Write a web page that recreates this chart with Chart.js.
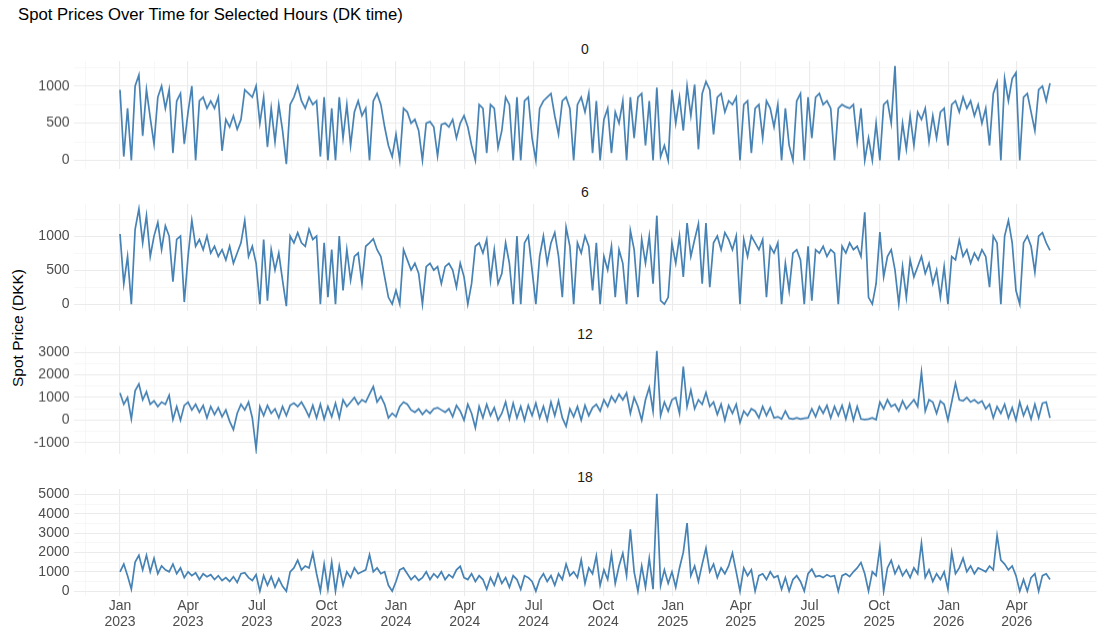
<!DOCTYPE html>
<html>
<head>
<meta charset="utf-8">
<script src="https://cdn.jsdelivr.net/npm/chart.js@4.4.1/dist/chart.umd.min.js"></script>
<style>
  body { margin: 0; width: 1104px; height: 632px; background: #fff; position: relative; overflow: hidden;
         font-family: "Liberation Sans", Arial, sans-serif; }
  #title { position: absolute; left: 18px; top: 5px; font-size: 16.7px; color: #000; white-space: nowrap; }
  #ytitle { position: absolute; left: 18px; top: 328px; transform: translate(-50%, -50%) rotate(-90deg);
            font-size: 15.5px; color: #000; white-space: nowrap; }
  .strip { position: absolute; left: 73.5px; width: 1023px; height: 16px; line-height: 16px;
           text-align: center; font-size: 14px; color: #1a1a1a; }
  canvas { position: absolute; left: 0; }
</style>
</head>
<body>
<div id="title">Spot Prices Over Time for Selected Hours (DK time)</div>
<div id="ytitle">Spot Price (DKK)</div>
<script>
// daily spot price read every 5 days from 2023-01-01
const START = Date.UTC(2023, 0, 1);
const STEP_DAYS = 5;
const hourLabels = ['0', '6', '12', '18'];

const h0 = [
  950, 50, 700, 0, 1000, 1150, 330, 950, 570, 220, 850, 1000, 700, 950, 100, 800, 900, 220, 650, 1000,
  0, 800, 850, 700, 800, 700, 850, 130, 550, 450, 600, 420, 550, 950, 900, 850, 1000, 500, 850, 180,
  700, 250, 750, 400, -50, 750, 850, 1000, 800, 700, 850, 750, 800, 50, 850, 0, 700, 0, 850, 300,
  750, 200, 650, 800, 600, 700, 0, 800, 900, 750, 450, 200, 50, 350, 0, 700, 650, 500, 550, 400,
  0, 500, 520,
  450, 60, 480, 500, 450, 550, 300, 500, 600, 450, 200, 0, 750, 700, 100, 750, 700, 170, 400, 850,
  750, 0, 850, 0, 800, 850, 300, 0, 700, 800, 850, 900, 600, 350, 800, 850, 700, 0, 750, 850,
  650, 900, 100, 800, 0, 550, 700, 100, 650, 500, 800, 0, 850, 300, 850, 900, 200, 800, 0, 980,
  50, 200, 0, 950, 500, 850, 400, 1000, 600, 1020, 150, 900, 1060, 950, 350, 850, 900, 650, 800, 750,
  850, 0, 750, 800, 100,
  700, 750, 300, 800, 700, 450, 750, 0, 700, 200, 0, 800, 900, 0, 850, 300, 850, 900, 750, 800,
  700, 0, 700, 750, 720, 700, 750, 250, 700, 0, 300, 0, 500, 0, 750, 800, 500, 1270, 0, 500,
  150, 600, 200, 650, 550, 700, 250, 600, 300, 650, 700, 200, 750, 800, 650, 850, 700, 800, 600, 750,
  500, 700, 200, 900, 1050, 0, 1100, 800, 1100, 1180, 0, 850, 900, 650, 400, 950, 1000, 800, 1040
];

const h6 = [
  1030, 300, 700, 0, 1100, 1400, 900, 1300, 700, 1000, 1200, 800, 1150, 1000, 330, 950, 1000, 30, 700, 1230,
  850, 950, 800, 1000, 750, 850, 700, 800, 650, 850, 600, 750, 900, 1230, 700, 850, 600, 0, 950, 50,
  800, 500, 750, 350, -30, 1000, 900, 1050, 900, 850, 1100, 950, 1000, 0, 900, 100, 800, 0, 1000, 200,
  800, 350, 700, 750, 300, 850, 900, 960, 800, 700, 400, 100, 0, 200, 0, 800, 650, 500, 600, 450,
  0, 550, 600,
  500, 550, 300, 550, 600, 500, 250, 600, 400, 0, 300, 850, 900, 750, 950, 350, 800, 300, 450, 900,
  600, 0, 1000, 0, 900, 1000, 500, 0, 700, 1000, 600, 900, 1050, 700, 100, 1130, 850, 0, 900, 750,
  1000, 850, 200, 900, 0, 700, 500, 850, 100, 800, 600, 0, 1080, 800, 100, 950, 600, 1000, 300, 1300,
  50, 0, 100, 900, 600, 1000, 400, 1190, 700, 950, 1180, 300, 1190, 250, 900, 1000, 800, 1050, 950, 800,
  1000, 0, 950, 700, 1000,
  900, 800, 950, 100, 850, 750, 900, 0, 600, 200, 750, 800, 650, 0, 850, 50, 800, 750, 850, 700,
  800, 750, 0, 850, 750, 900, 800, 850, 700, 1350, 100, 0, 300, 1060, 400, 700, 800, 500, 0, 550,
  100, 650, 400, 550, 700, 450, 600, 300, 500, 100, 550, 0, 700, 650, 940, 700, 800, 600, 750, 650,
  800, 700, 250, 1000, 900, 0, 1000, 1230, 900, 200, 0, 900, 1000, 850, 470, 1000, 1050, 900, 790
];

const h12 = [
  1200, 700, 1000, 50, 1300, 1600, 900, 1250, 700, 850, 600, 800, 700, 1100, 30, 600, 0, 650, 800, 450,
  700, 350, 650, 100, 600, 250, 550, 150, 450, -50, -420, 300, 700, 450, 800, 100, -1280, 600, 200, 650,
  300, 500, 100, 600, 200, 650, 750, 600, 800, 500, 150, 650, 100, 700, 50, 600, 150, 750, 100, 900,
  600, 800, 1000, 700, 900, 800, 1150, 1480, 800, 1050, 700, 100, 300, 150, 600, 800, 700, 450, 350, 500,
  250, 450, 300,
  500, 550, 450, 350, 500, 150, 650, 400, 0, 700, 300, -340, 600, 100, 700, 200, 550, 0, 300, 800,
  50, 750, 100, 600, 0, 650, 200, 750, 100, 600, 0, 800, 200, 850, 100, -270, 500, 150, 600, 0,
  650, 200, 550, 700, 400, 900, 600, 1050, 800, 1150, 900, 1200, 300, 1000, 600, 0, 900, 1450, 400, 3060,
  200, 800, 400, 900, 1000, 300, 2370, 600, 1330, 500, 900, 700, 1220, 600, 800, 250, 700, 0, 650, 300,
  700, -100, 400, 200, 500,
  400, 100, 600, 200, 550, 100, 150, 50, 400, 80, 50, 100, 50, 80, 100, 500, 150, 600, 300, 650,
  100, 600, 200, 650, 50, 700, 0, 600, 50, 30, 50, 100, 20, 800, 500, 900, 600, 700, 400, 850,
  500, 700, 900, 600, 2120, 400, 900, 800, 300, 850, 700, 0, 800, 1630, 900, 850, 1000, 800, 900, 750,
  850, 500, 700, 100, 600, 300, 700, 100, 550, 0, 800, 200, 600, 50, 700, 100, 750, 800, 100
];

const h18 = [
  1000, 1400, 800, 100, 1500, 1850, 1100, 1850, 1000, 1700, 900, 1300, 1100, 1000, 1400, 900, 1200, 700, 1000, 800,
  950, 600, 900, 750, 850, 600, 800, 550, 700, 500, 750, 450, 900, 950, 700, 550, 850, 0, 800, 300,
  750, 200, 650, 250, 0, 1000, 1200, 1600, 1100, 1300, 1200, 1960, 900, 0, 1400, 100, 1500, 0, 1300, 300,
  1000, 700, 1200, 900, 1000, 1100, 1880, 1000, 1200, 900, 1000, 300, 0, 500, 1100, 1200, 900, 600, 800, 550,
  700, 1000, 600,
  900, 700, 1000, 600, 850, 700, 1100, 1280, 700, 600, 900, 500, 800, 600, 100, 700, 300, 900, 400, 700,
  200, 800, 600, 100, 800, 700, 500, 0, 600, 900, 500, 800, 300, 900, 600, 1400, 800, 1000, 700, 1620,
  400, 1200, 900, 1830, 300, 1100, 600, 1910, 400, 1300, 1960, 800, 3200, 1000, 0, 1300, 200, 1700, 100, 5030,
  300, 1100, 400, 1000, 200, 1200, 2000, 3520, 800, 1300, 500, 1400, 2220, 1000, 1400, 700, 1200, 900, 1300, 1970,
  1000, 0, 1200, 800, 1100,
  0, 800, 900, 600, 1000, 700, 800, 100, 700, 0, 600, 800, 500, 0, 900, 1140, 750, 800, 700, 850,
  750, 800, 0, 800, 900, 750, 1000, 1200, 1480, 900, 0, 1000, 800, 2260, 0, 1200, 1590, 900, 1300, 800,
  1100, 700, 1200, 900, 2480, 700, 1100, 500, 900, 600, 1000, 100, 2000, 900, 1200, 1700, 1000, 1300, 900, 1200,
  1100, 1000, 1300, 1100, 2880, 1600, 1400, 1100, 1300, 800, 0, 600, 0, 700, 900, 0, 800, 900, 600
];

const series = [h0, h6, h12, h18];
const yStep = [500, 500, 1000, 1000];

const monthNames = ['Jan', 'Apr', 'Jul', 'Oct'];
const quarterTicks = [];
for (let y = 2023; y <= 2026; y++) {
  for (let q = 0; q < 4; q++) {
    quarterTicks.push({ day: (Date.UTC(y, q * 3, 1) - START) / 86400000, label: [monthNames[q], String(y)] });
  }
}
quarterTicks.splice(14); // up to Jul 2026

// layout
const PLOT_LEFT = 73.5, PLOT_RIGHT = 1096.5;
const PANEL_TOP = 61, PANEL_H = 107.5, PANEL_GAP = 142.5;
const PAD = 14, XAXIS_H = 36;

const nDays = (h0.length - 1) * STEP_DAYS;
const xMin = -0.05 * nDays, xMax = nDays * 1.05;

const majorX = new Map(quarterTicks.map(t => [t.day, t.label]));
const xTickVals = [];
quarterTicks.forEach((t, i) => {
  const prev = i === 0 ? t.day - (quarterTicks[1].day - t.day) : quarterTicks[i - 1].day;
  const mid = (prev + t.day) / 2;
  if (mid >= xMin) xTickVals.push(mid);
  xTickVals.push(t.day);
});

const fontFam = '"Liberation Sans", Arial, sans-serif';

series.forEach((vals, k) => {
  const isLast = k === series.length - 1;
  const top = PANEL_TOP + k * PANEL_GAP;

  const strip = document.createElement('div');
  strip.className = 'strip';
  strip.style.top = (top - 20) + 'px';
  strip.textContent = hourLabels[k];
  document.body.appendChild(strip);

  const canvas = document.createElement('canvas');
  const h = PAD + PANEL_H + (isLast ? XAXIS_H : PAD);
  canvas.width = 1104; canvas.height = h;
  canvas.style.width = '1104px'; canvas.style.height = h + 'px';
  canvas.style.top = (top - PAD) + 'px';
  document.body.appendChild(canvas);

  const lo = Math.min(...vals), hi = Math.max(...vals);
  const yMin = lo - 0.05 * (hi - lo), yMax = hi + 0.05 * (hi - lo);
  const step = yStep[k];

  new Chart(canvas, {
    type: 'line',
    data: {
      datasets: [{
        data: vals.map((v, i) => ({ x: i * STEP_DAYS, y: v })),
        borderColor: '#4682B4',
        borderWidth: 1.7,
        pointRadius: 0,
        fill: false,
        tension: 0
      }]
    },
    options: {
      responsive: false,
      animation: false,
      events: [],
      layout: { padding: { top: PAD, bottom: isLast ? 0 : PAD, left: 0, right: 1104 - PLOT_RIGHT } },
      plugins: { legend: { display: false }, tooltip: { enabled: false } },
      scales: {
        x: {
          type: 'linear', min: xMin, max: xMax,
          border: { display: false },
          grid: {
            drawTicks: false,
            color: c => majorX.has(c.tick.value) ? '#EBEBEB' : '#F3F3F3',
            lineWidth: c => majorX.has(c.tick.value) ? 1.1 : 0.7
          },
          ticks: {
            display: isLast, autoSkip: false, maxRotation: 0, padding: 3,
            color: '#4D4D4D', font: { family: fontFam, size: 14, lineHeight: 1.08 },
            callback: v => majorX.get(v) || ''
          },
          afterBuildTicks: s => { s.ticks = xTickVals.map(v => ({ value: v })); },
          afterFit: s => { s.height = isLast ? XAXIS_H : 0; s.paddingLeft = 0; s.paddingRight = 0; }
        },
        y: {
          min: yMin, max: yMax,
          border: { display: false },
          grid: {
            drawTicks: false,
            color: c => c.tick.value % step === 0 ? '#EBEBEB' : '#F3F3F3',
            lineWidth: c => c.tick.value % step === 0 ? 1.1 : 0.7
          },
          ticks: {
            autoSkip: false, padding: 4, color: '#4D4D4D',
            font: { family: fontFam, size: 14 },
            callback: v => v % step === 0 ? String(v) : ''
          },
          afterBuildTicks: s => {
            const t = [];
            for (let v = Math.ceil(yMin / (step / 2)) * (step / 2); v <= yMax; v += step / 2) t.push({ value: v });
            s.ticks = t;
          },
          afterFit: s => { s.width = PLOT_LEFT; s.paddingTop = 0; s.paddingBottom = 0; }
        }
      }
    }
  });
});
</script>
</body>
</html>
